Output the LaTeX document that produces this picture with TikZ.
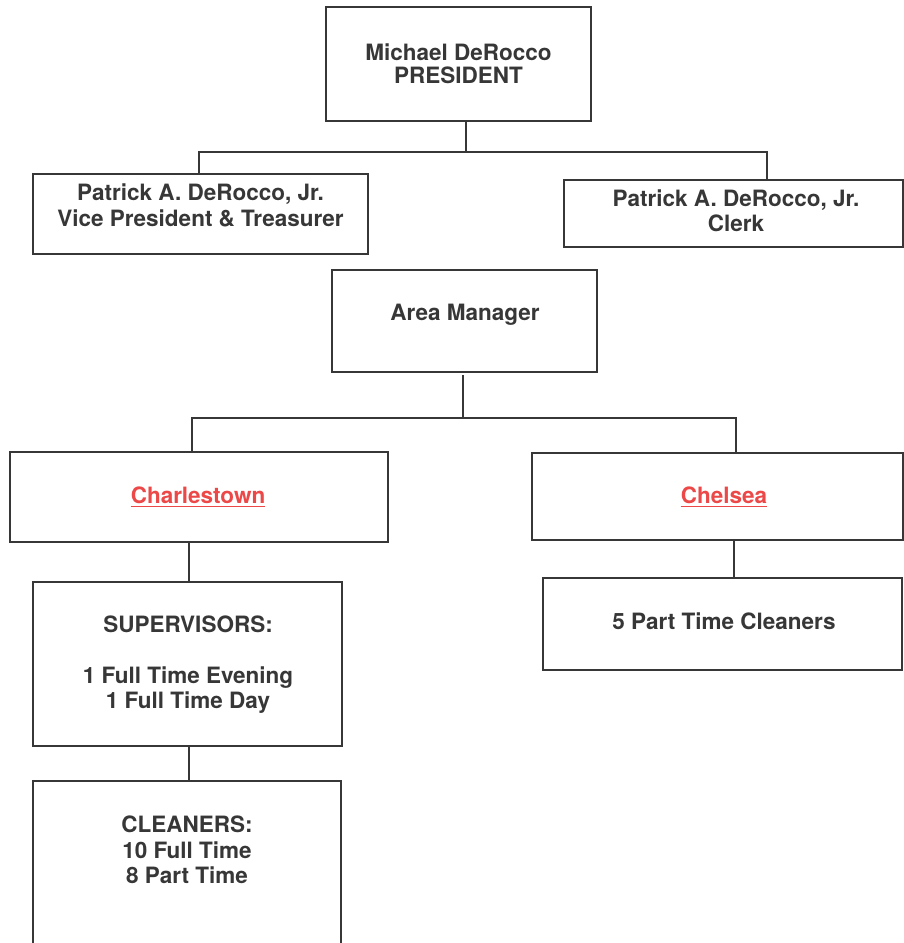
\documentclass[tikz,border=0pt]{standalone}
\usepackage{fontspec}
\setmainfont{TeX Gyre Heros}
\definecolor{ink}{RGB}{55,55,55}
\definecolor{redtxt}{RGB}{236,72,72}
\begin{document}
\begin{tikzpicture}[x=1pt,y=-1pt,
  box/.style={draw=ink,line width=1.4pt,rectangle,inner sep=0pt},
  txt/.style={anchor=base,inner sep=0pt,text=ink,font=\fontsize{22.5}{25}\selectfont\bfseries},
  redlbl/.style={anchor=base,inner sep=0pt,text=redtxt,font=\fontsize{22.5}{25}\selectfont\bfseries},
  link/.style={draw=ink,line width=1.2pt}]
\useasboundingbox[fill=white] (0,0) rectangle (904,943);
% boxes
\node[box,minimum width=265pt,minimum height=114pt] (pres) at (458.5,64) {};
\node[box,minimum width=335pt,minimum height=80pt] (vp) at (200.5,214) {};
\node[box,minimum width=339pt,minimum height=67pt] (clerk) at (733.5,213.5) {};
\node[box,minimum width=265pt,minimum height=102pt] (am) at (464.5,321) {};
\node[box,minimum width=378pt,minimum height=90pt] (charl) at (199,497) {};
\node[box,minimum width=371pt,minimum height=87pt] (chel) at (717.5,496.5) {};
\node[box,minimum width=309pt,minimum height=164pt] (sup) at (187.5,664) {};
\node[box,minimum width=359pt,minimum height=92pt] (fpt) at (722.5,624) {};
\node[box,minimum width=308pt,minimum height=190pt] (cln) at (187,876) {};
% texts
\node[txt] (t1) at (458.5,60) {Michael DeRocco};
\node[txt] (t2) at (458.5,83) {PRESIDENT};
\node[txt] (t3) at (200.5,200) {Patrick A. DeRocco, Jr.};
\node[txt] (t4) at (200.5,226) {Vice President \& Treasurer};
\node[txt] (t5) at (736,206) {Patrick A. DeRocco, Jr.};
\node[txt] (t6) at (736,231) {Clerk};
\node[txt] (t7) at (465,320) {Area Manager};
\node[redlbl] (t8) at (198,503) {Charlestown};
\node[redlbl] (t9) at (724,503) {Chelsea};
\draw[redtxt,line width=1pt] ([yshift=-3pt]t8.base west) -- ([yshift=-3pt]t8.base east);
\draw[redtxt,line width=1pt] ([yshift=-3pt]t9.base west) -- ([yshift=-3pt]t9.base east);
\node[txt] (t10) at (188,632) {SUPERVISORS:};
\node[txt] (t11) at (188,683) {1 Full Time Evening};
\node[txt] (t12) at (188,708) {1 Full Time Day};
\node[txt] (t13) at (724,629) {5 Part Time Cleaners};
\node[txt] (t14) at (187,832) {CLEANERS:};
\node[txt] (t15) at (187,858) {10 Full Time};
\node[txt] (t16) at (187,883) {8 Part Time};
% junctions
\coordinate (j1) at (466,152);
\coordinate (j1l) at (199,152);
\coordinate (j1r) at (767,152);
\coordinate (j2top) at (463,375);
\coordinate (j2) at (463,418);
\coordinate (j2l) at (192,418);
\coordinate (j2r) at (736,418);
% connectors
\draw[link] (pres.south -| j1) -- (j1);
\draw[link] (vp.north -| j1l) -- (j1l) -- (j1r) -- (clerk.north -| j1r);
\draw[link] (j2top) -- (j2);
\draw[link] (charl.north -| j2l) -- (j2l) -- (j2r) -- (chel.north -| j2r);
\draw[link] (charl.south -| 189,0) -- (sup.north -| 189,0);
\draw[link] (chel.south -| 734,0) -- (fpt.north -| 734,0);
\draw[link] (sup.south -| 189,0) -- (cln.north -| 189,0);
\end{tikzpicture}
\end{document}
